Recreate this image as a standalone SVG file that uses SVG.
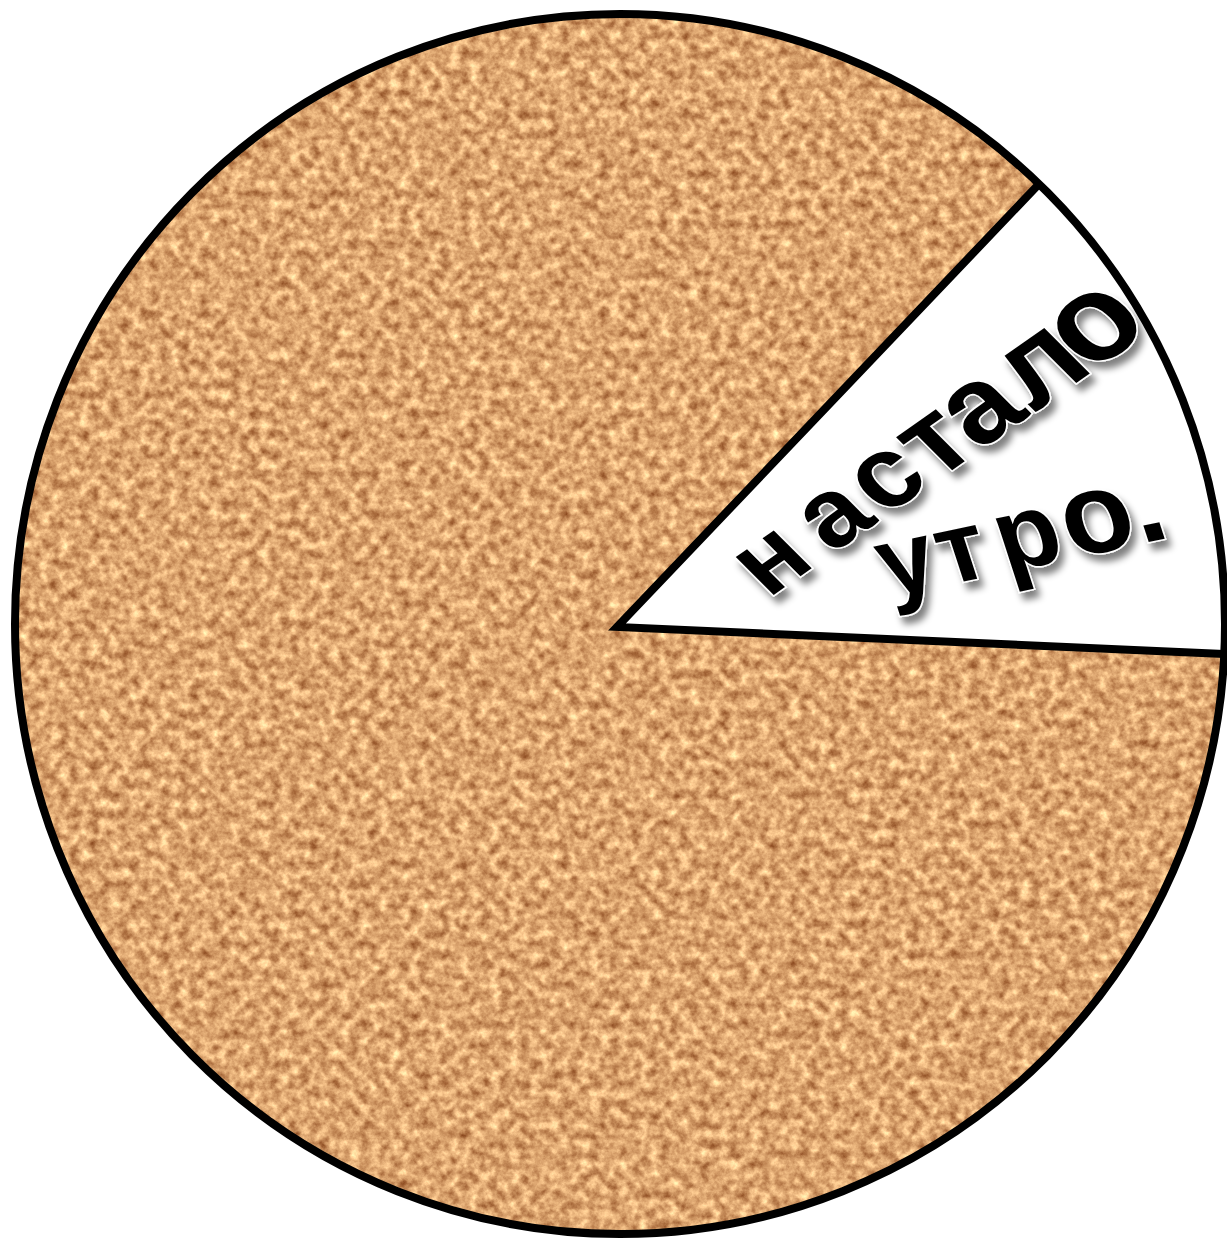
<svg xmlns="http://www.w3.org/2000/svg" width="1227" height="1238" viewBox="0 0 1227 1238">
  <style>
    .outline { fill: none; stroke: #000; stroke-width: 8; stroke-linejoin: miter; }
    .label { font-family: "Liberation Sans", Arial, sans-serif; font-weight: bold; fill: #000; stroke: #fff; stroke-width: 3; paint-order: stroke; }
  </style>
  <defs>
    <filter id="cork" filterUnits="userSpaceOnUse" x="0" y="0" width="1227" height="1238" color-interpolation-filters="sRGB">
      <feTurbulence type="fractalNoise" baseFrequency="0.1" numOctaves="4" seed="7" result="n"/>
      <feColorMatrix in="n" type="matrix" values="0.7 0 0 0 0.51  0.8 0 0 0 0.245  0.7 0 0 0 0.085  0 0 0 0 1"/>
    </filter>
    <clipPath id="pieClip">
      <path d="M617 627 L1224 654 A605 610 0 1 1 1039 184 Z"/>
    </clipPath>
    <filter id="shadow" x="-20%" y="-30%" width="150%" height="170%">
      <feGaussianBlur in="SourceAlpha" stdDeviation="3.5"/>
      <feOffset dx="5" dy="7"/>
      <feComponentTransfer><feFuncA type="linear" slope="0.5"/></feComponentTransfer>
      <feMerge><feMergeNode/><feMergeNode in="SourceGraphic"/></feMerge>
    </filter>
  </defs>
  <rect width="1227" height="1238" fill="#fff"/>
  <g id="cork-sector" clip-path="url(#pieClip)">
    <rect x="0" y="0" width="1227" height="1238" fill="#d29a64" filter="url(#cork)"/>
  </g>
  <g id="white-sector">
    <path d="M617 627 L1039 184 A605 610 0 0 1 1224 654 Z" fill="#fff"/>
  </g>
  <g id="outlines">
    <ellipse class="outline" cx="620" cy="624" rx="605" ry="610"/>
    <path class="outline" d="M1039 184 L617 627 L1224 654"/>
  </g>
  <g id="caption" filter="url(#shadow)">
    <text class="label" transform="translate(768 599) rotate(-35) skewX(10)"><tspan x="0" y="0" font-size="100">н</tspan><tspan x="78" y="0" font-size="104">а</tspan><tspan x="142" y="0" font-size="108">с</tspan><tspan x="205" y="0" font-size="112">т</tspan><tspan x="257" y="0" font-size="116">а</tspan><tspan x="325" y="0" font-size="120">л</tspan><tspan x="392" y="0" font-size="130">о</tspan></text>
    <text class="label" transform="translate(877 600) rotate(-12) skewX(6)"><tspan x="12" y="0" font-size="100">у</tspan><tspan x="71" y="0" font-size="100">т</tspan><tspan x="132" y="0" font-size="104">р</tspan><tspan x="200" y="0" font-size="116">о</tspan><tspan x="270" y="0" font-size="116">.</tspan></text>
  </g>
</svg>
